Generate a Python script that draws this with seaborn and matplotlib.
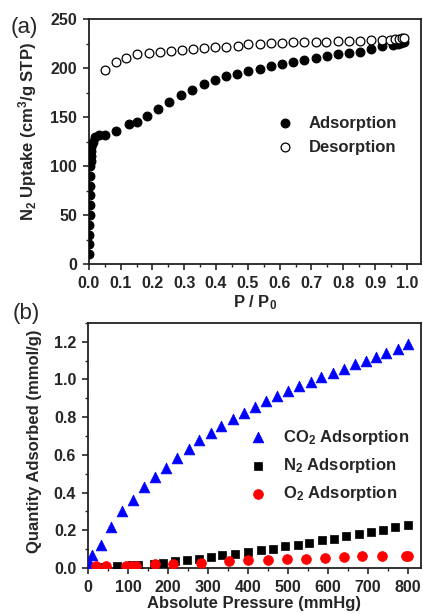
import seaborn as sns
import matplotlib.pyplot as plt
import matplotlib.ticker as ticker
import numpy as np
import pandas as pd

# (a) N2 isotherm at 77 K
ads_p = [0.0005, 0.001, 0.0015, 0.002, 0.0025, 0.003, 0.0035, 0.004, 0.0045, 0.005,
         0.0055, 0.006, 0.007, 0.008, 0.01, 0.012, 0.018, 0.031, 0.05, 0.084,
         0.126, 0.153, 0.184, 0.219, 0.253, 0.289, 0.325, 0.361, 0.396, 0.432,
         0.467, 0.502, 0.537, 0.573, 0.608, 0.643, 0.677, 0.713, 0.748, 0.782,
         0.818, 0.852, 0.886, 0.922, 0.956, 0.972, 0.982, 0.99]
ads_v = [10, 20, 30, 40, 50, 60, 70, 80, 90, 100,
         105, 110, 115, 119, 122, 125, 129.5, 131.5, 132, 136,
         142.5, 145, 151, 158, 165, 172, 178, 184, 188, 191.5,
         194, 196.6, 199, 202, 204, 206, 208, 210, 212, 214,
         215.6, 216.7, 219, 222, 223.5, 224.5, 226, 227]
des_p = [0.050, 0.084, 0.118, 0.153, 0.188, 0.223, 0.259, 0.292, 0.328, 0.363,
         0.396, 0.432, 0.468, 0.502, 0.537, 0.573, 0.608, 0.642, 0.677, 0.713,
         0.747, 0.782, 0.818, 0.852, 0.886, 0.921, 0.946, 0.962, 0.975, 0.985, 0.992]
des_v = [198, 206, 210.5, 214, 215.6, 216.7, 217.7, 218.4, 219.4, 220,
         221, 221.8, 222, 224.8, 225, 225.9, 226, 226.5, 227, 227,
         227, 228, 228, 228, 228.6, 229, 229, 229.5, 230, 230.3, 230.6]

# (b) gas isotherms
co2_p = [4, 11, 33, 58, 86, 112, 140, 167, 194, 223, 252, 279, 307, 334, 362, 390,
         417, 446, 473, 501, 529, 557, 584, 612, 640, 668, 696, 721, 746, 775, 802]
co2_q = [0.023, 0.068, 0.121, 0.219, 0.304, 0.361, 0.427, 0.485, 0.533, 0.583,
         0.631, 0.677, 0.715, 0.751, 0.791, 0.823, 0.853, 0.885, 0.912, 0.939,
         0.965, 0.987, 1.013, 1.036, 1.057, 1.080, 1.098, 1.120, 1.143, 1.161, 1.188]
n2_p = [30, 72, 110, 125, 164, 188, 218, 248, 277, 307, 336, 369, 400, 432, 462,
        493, 525, 554, 585, 615, 646, 677, 707, 737, 768, 800]
n2_q = [0.005, 0.010, 0.015, 0.016, 0.023, 0.028, 0.037, 0.043, 0.050, 0.059,
        0.068, 0.076, 0.085, 0.094, 0.103, 0.116, 0.124, 0.133, 0.148, 0.156,
        0.169, 0.178, 0.190, 0.200, 0.217, 0.228]
o2_p = [21, 46, 96, 108, 121, 167, 212, 283, 354, 400, 450, 497, 546, 593, 640,
        686, 735, 796, 802]
o2_q = [0.010, 0.010, 0.011, 0.011, 0.011, 0.020, 0.023, 0.028, 0.036, 0.041,
        0.044, 0.046, 0.050, 0.055, 0.057, 0.066, 0.064, 0.066, 0.066]

sns.set_style("ticks")
plt.rcParams['font.family'] = ['Liberation Sans', 'DejaVu Sans']
plt.rcParams['font.weight'] = 'bold'
plt.rcParams['axes.labelweight'] = 'bold'
plt.rcParams['mathtext.fontset'] = 'custom'
plt.rcParams['mathtext.bf'] = 'Liberation Sans:bold'
plt.rcParams['mathtext.rm'] = 'Liberation Sans:bold'
plt.rcParams['mathtext.default'] = 'bf'

fig = plt.figure(figsize=(4.23, 6.14), dpi=100)
ax1 = fig.add_axes([0.210, 0.570, 0.785, 0.399])
ax2 = fig.add_axes([0.208, 0.075, 0.787, 0.399])

# ---- panel (a)
sns.scatterplot(x=ads_p, y=ads_v, ax=ax1, marker="o", s=40, color="black",
                edgecolor="black", linewidth=0.8, label="Adsorption", zorder=3)
sns.scatterplot(x=des_p, y=des_v, ax=ax1, marker="o", s=40, facecolor="white",
                edgecolor="black", linewidth=0.9, label="Desorption", zorder=4)
ax1.set_xlim(0, 1.044)
ax1.set_ylim(0, 250)
ax1.xaxis.set_major_locator(ticker.MultipleLocator(0.1))
ax1.xaxis.set_minor_locator(ticker.MultipleLocator(0.05))
ax1.xaxis.set_major_formatter(ticker.FormatStrFormatter('%.1f'))
ax1.yaxis.set_major_locator(ticker.MultipleLocator(50))
ax1.yaxis.set_minor_locator(ticker.MultipleLocator(25))
ax1.set_xlabel("P / P$_0$", fontsize=12, va="top")
ax1.set_ylabel("N$_2$ Uptake (cm$^3$/g STP)", fontsize=12)
ax1.xaxis.set_label_coords(0.5, -0.12)
ax1.yaxis.set_label_coords(-0.15, 0.54)
ax1.legend(loc="upper left", bbox_to_anchor=(0.565, 0.606), frameon=False,
           borderaxespad=0, borderpad=0, handlelength=1.0, handletextpad=0.93,
           labelspacing=0.55, prop={'weight': 'bold', 'size': 12})

# ---- panel (b)
sns.scatterplot(x=co2_p, y=co2_q, ax=ax2, marker="^", s=60, color="#0000ff",
                edgecolor="#0000ff", linewidth=0.5, label="CO$_2$ Adsorption", zorder=3)
sns.scatterplot(x=n2_p, y=n2_q, ax=ax2, marker="s", s=30, color="black",
                edgecolor="black", linewidth=0.5, label="N$_2$ Adsorption", zorder=3)
sns.scatterplot(x=o2_p, y=o2_q, ax=ax2, marker="o", s=50, color="#ff0000",
                edgecolor="#ff0000", linewidth=0.5, label="O$_2$ Adsorption", zorder=4)
ax2.set_xlim(0, 833)
ax2.set_ylim(0, 1.3)
ax2.xaxis.set_major_locator(ticker.MultipleLocator(100))
ax2.xaxis.set_minor_locator(ticker.MultipleLocator(50))
ax2.yaxis.set_major_locator(ticker.MultipleLocator(0.2))
ax2.yaxis.set_minor_locator(ticker.MultipleLocator(0.1))
ax2.yaxis.set_major_formatter(ticker.FormatStrFormatter('%.1f'))
ax2.set_xlabel("Absolute Pressure (mmHg)", fontsize=12, va="top")
ax2.set_ylabel("Quantity Adsorbed (mmol/g)", fontsize=12)
ax2.xaxis.set_label_coords(0.5, -0.113)
ax2.yaxis.set_label_coords(-0.137, 0.516)
ax2.legend(loc="upper left", bbox_to_anchor=(0.486, 0.572), frameon=False,
           borderaxespad=0, borderpad=0, handlelength=1.0, handletextpad=0.99,
           labelspacing=0.55, prop={'weight': 'bold', 'size': 12})

for ax in (ax1, ax2):
    for side in ["top", "right", "left", "bottom"]:
        ax.spines[side].set_visible(True)
        ax.spines[side].set_linewidth(1.3)
        ax.spines[side].set_color("#222222")
    ax.tick_params(axis="both", which="major", direction="out", length=4, width=1.2,
                   labelsize=11.5, pad=4.5, top=False, right=False)
    ax.tick_params(axis="both", which="minor", direction="out", length=2.5, width=1.0,
                   top=False, right=False)
    for lbl in ax.get_xticklabels() + ax.get_yticklabels():
        lbl.set_fontweight("bold")

fig.text(0.026, 0.956, "(a)", fontsize=16, fontweight="normal", va="center", ha="left")
fig.text(0.029, 0.489, "(b)", fontsize=16, fontweight="normal", va="center", ha="left")

fig.savefig("out.png", dpi=100)
